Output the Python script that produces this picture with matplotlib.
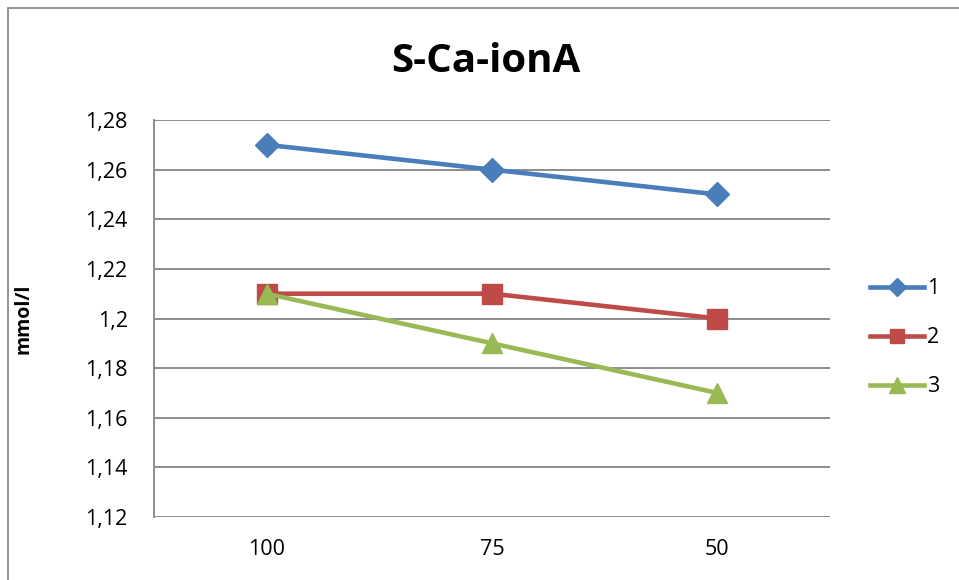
import matplotlib
matplotlib.use("Agg")
import matplotlib.pyplot as plt
from matplotlib.patches import Rectangle

# chart data
categories = ["100", "75", "50"]
series_names = ["1", "2", "3"]
values_1 = [1.27, 1.26, 1.25]
values_2 = [1.21, 1.21, 1.20]
values_3 = [1.21, 1.19, 1.17]
y_ticks = [1.12, 1.14, 1.16, 1.18, 1.20, 1.22, 1.24, 1.26, 1.28]

plt.rcParams['font.family'] = ['Open Sans', 'DejaVu Sans']

fig = plt.figure(figsize=(9.59, 5.8), dpi=100)
W, H = 959, 580
ax = fig.add_axes([154 / W, 1 - 517 / H, (830 - 154) / W, (517 - 120) / H])

# outer chart border (top and left visible)
fig.patches.append(Rectangle((8 / W, -0.05), 1.2, 1 - 8 / H + 0.05, transform=fig.transFigure,
                             fill=False, edgecolor="#8c8c8c", linewidth=1.3))

x = range(len(categories))
ax.plot(x, values_1, color="#4a7ebb", lw=3.3, marker="D", ms=12, label=series_names[0])
ax.plot(x, values_2, color="#be4b48", lw=3.3, marker="s", ms=14, label=series_names[1])
ax.plot(x, values_3, color="#98b954", lw=3.3, marker="^", ms=15, label=series_names[2])

ax.set_xlim(-0.5, 2.5)
ax.set_ylim(1.12, 1.28)
ax.set_xticks(list(x))
ax.set_xticklabels(categories, fontsize=15.5)
ax.set_yticks(y_ticks)
ax.set_yticklabels([f"{v:g}".replace(".", ",") for v in y_ticks], fontsize=15.5)
ax.tick_params(length=0)
ax.tick_params(axis="y", pad=19)
ax.tick_params(axis="x", pad=16)

ax.grid(axis="y", color="#8c8c8c", lw=1.4)
ax.set_axisbelow(True)
for s in ["top", "right", "bottom"]:
    ax.spines[s].set_visible(False)
ax.spines["left"].set_color("#8c8c8c")
ax.spines["left"].set_linewidth(1.4)

ax.set_ylabel("mmol/l", fontsize=14, fontweight="bold")
ax.yaxis.set_label_coords(-120 / (830 - 154), 0.5)

fig.text(486 / W, 1 - 62 / H, "S-Ca-ionA", fontsize=29, fontweight="bold",
         ha="center", va="center")

ax.legend(loc="center left", bbox_to_anchor=(1.046, 0.452), frameon=False, fontsize=15.5,
          handlelength=2.5, handletextpad=0.15, labelspacing=1.3, borderaxespad=0,
          markerscale=0.75)

fig.savefig("out.png", dpi=100)
